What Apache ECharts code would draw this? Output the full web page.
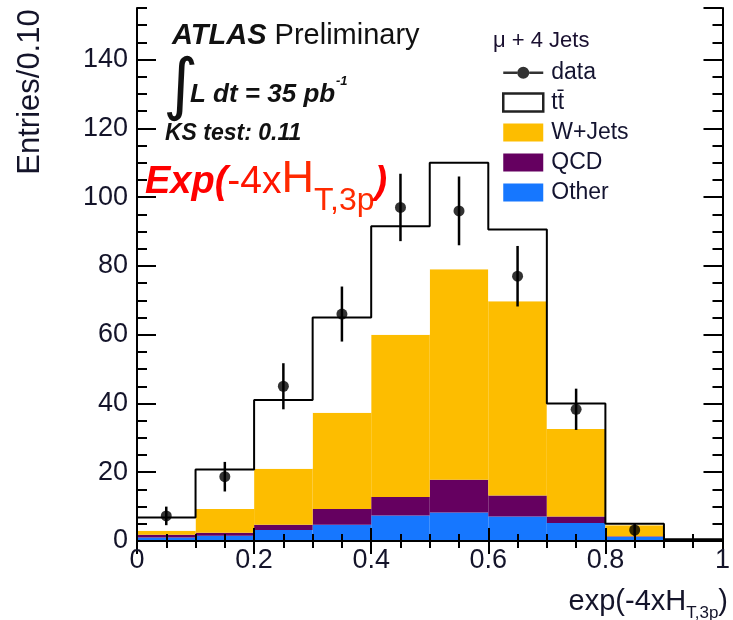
<!DOCTYPE html>
<html>
<head>
<meta charset="utf-8">
<script src="https://cdn.jsdelivr.net/npm/echarts@6/dist/echarts.min.js"></script>
<style>
    html, body { margin: 0; padding: 0; background: #fff; }
    #chart { width: 733px; height: 620px; }
</style>
</head>
<body>
<div id="chart"></div>
<script>
// bins of exp(-4 x H_T,3p), width 0.1
const binEdges = [0, 0.1, 0.2, 0.3, 0.4, 0.5, 0.6, 0.7, 0.8, 0.9, 1.0];
const binNames = ['0.0-0.1', '0.1-0.2', '0.2-0.3', '0.3-0.4', '0.4-0.5', '0.5-0.6', '0.6-0.7', '0.7-0.8', '0.8-0.9', '0.9-1.0'];

// stacked MC contributions (entries per bin)
const otherVals = [1.0, 1.5, 3.2, 4.7, 7.4, 8.3, 7.1, 5.2, 1.2, 0.4];
const qcdVals = [0.8, 0.9, 1.5, 4.6, 5.4, 9.5, 6.1, 1.9, 0.2, 0];
const wjetsVals = [1.2, 6.9, 16.3, 28.0, 47.2, 61.2, 56.5, 25.5, 3.2, 0];
const ttbarVals = [3.8, 11.5, 20.0, 27.7, 31.5, 31.0, 20.9, 7.4, 0.4, 0.1];

// data points with stat. errors
const dataX = [0.05, 0.15, 0.25, 0.35, 0.45, 0.55, 0.65, 0.75, 0.85];
const dataY = [7.3, 18.7, 45, 66, 97, 96, 77, 38.3, 3.2];
const dataErr = [2.7, 4.3, 6.7, 8.0, 9.8, 10.0, 8.8, 6.0, 1.8];

const FONT = 'Liberation Sans';
const TTNAME = 'tt\u0304';

let totals = binNames.map(function (n, i) {
    return otherVals[i] + qcdVals[i] + wjetsVals[i] + ttbarVals[i];
});
let stepData = binEdges.map(function (x, i) {
    return [x, totals[Math.min(i, totals.length - 1)]];
});
let pointData = dataX.map(function (x, i) {
    return [x, dataY[i], dataErr[i]];
});

function barSeries(name, vals, color) {
    return {
        name: name,
        type: 'bar',
        stack: 'mc',
        xAxisIndex: 2,
        yAxisIndex: 0,
        barCategoryGap: 0,
        itemStyle: { color: color },
        emphasis: { disabled: true },
        data: vals
    };
}

const yMajor = {
    type: 'value', min: 0, max: 155, interval: 20, z: 10,
    axisLine: { show: true, lineStyle: { color: '#000', width: 2 } },
    axisTick: { show: true, inside: true, length: 19, lineStyle: { color: '#000', width: 2 } },
    splitLine: { show: false }
};
const yMinor = {
    type: 'value', min: 0, max: 155, interval: 5, z: 10,
    axisLine: { show: false },
    axisTick: { show: true, inside: true, length: 10, lineStyle: { color: '#000', width: 2 } },
    axisLabel: { show: false },
    splitLine: { show: false }
};

const chart = echarts.init(document.getElementById('chart'));
const option = {
    animation: false,
    backgroundColor: '#fff',
    grid: { left: 137, right: 2, top: 8, bottom: 79, show: false },
    xAxis: [
        {
            type: 'value', min: 0, max: 1, interval: 0.2, position: 'bottom', z: 10,
            axisLine: { show: true, lineStyle: { color: '#000', width: 2 } },
            axisTick: { show: true, inside: true, length: 13, lineStyle: { color: '#000', width: 2 } },
            minorTick: { show: true, splitNumber: 4, length: 7, lineStyle: { color: '#000', width: 2 } },
            axisLabel: { fontFamily: FONT, fontSize: 27, color: '#14142a', margin: 6 },
            splitLine: { show: false }
        },
        {
            type: 'value', min: 0, max: 1, interval: 0.2, position: 'top', z: 10,
            axisLine: { show: true, lineStyle: { color: '#000', width: 2 } },
            axisTick: { show: true, inside: true, length: 13, lineStyle: { color: '#000', width: 2 } },
            minorTick: { show: true, splitNumber: 4, length: 7, lineStyle: { color: '#000', width: 2 } },
            axisLabel: { show: false },
            splitLine: { show: false }
        },
        {
            type: 'category', data: binNames, position: 'bottom', show: false
        }
    ],
    yAxis: [
        Object.assign({}, yMajor, {
            position: 'left',
            axisLabel: { fontFamily: FONT, fontSize: 27, color: '#14142a', margin: 9, showMaxLabel: false }
        }),
        Object.assign({}, yMinor, { position: 'left' }),
        Object.assign({}, yMajor, { position: 'right', axisLabel: { show: false } }),
        Object.assign({}, yMinor, { position: 'right' })
    ],
    legend: {
        left: 497,
        top: 56,
        orient: 'vertical',
        itemWidth: 40,
        itemHeight: 18,
        itemGap: 7,
        selectedMode: false,
        textStyle: { fontFamily: FONT, fontSize: 23, color: '#141430', padding: [0, 0, 0, 3] },
        data: [
            { name: 'data', icon: 'path://M0,8h14v2.5H0z M26,8h14v2.5h-14z M14,9.25a6,6 0 1,0 12,0a6,6 0 1,0 -12,0z M20,0h0.05v0.05h-0.05z M20,18h0.05v-0.05h-0.05z' },
            { name: TTNAME, icon: 'rect', itemStyle: { color: '#fff', borderColor: '#222', borderWidth: 2.5 } },
            { name: 'W+Jets', icon: 'rect' },
            { name: 'QCD', icon: 'rect' },
            { name: 'Other', icon: 'rect' }
        ]
    },
    series: [
        barSeries('Other', otherVals, '#1677ff'),
        barSeries('QCD', qcdVals, '#650060'),
        barSeries('W+Jets', wjetsVals, '#fdbd00'),
        barSeries(TTNAME, ttbarVals, '#ffffff'),
        {
            name: 'total',
            type: 'line',
            step: 'end',
            xAxisIndex: 0,
            yAxisIndex: 0,
            showSymbol: false,
            z: 4,
            lineStyle: { color: '#000', width: 2 },
            data: stepData
        },
        {
            name: 'errors',
            type: 'custom',
            xAxisIndex: 0,
            yAxisIndex: 0,
            z: 5,
            renderItem: function (params, api) {
                let lo = api.coord([api.value(0), api.value(1) - api.value(2)]);
                let hi = api.coord([api.value(0), api.value(1) + api.value(2)]);
                return {
                    type: 'line',
                    shape: { x1: lo[0], y1: lo[1], x2: hi[0], y2: hi[1] },
                    style: { stroke: '#000', lineWidth: 2.5 }
                };
            },
            data: pointData
        },
        {
            name: 'data',
            type: 'scatter',
            xAxisIndex: 0,
            yAxisIndex: 0,
            symbol: 'circle',
            symbolSize: 11,
            z: 6,
            itemStyle: { color: '#000' },
            data: pointData
        }
    ],
    graphic: [
        {
            type: 'text', x: 30, y: 92, rotation: Math.PI / 2,
            style: { text: 'Entries/0.10', font: '31px "Liberation Sans"', fill: '#14142a', align: 'center', verticalAlign: 'middle' }
        },
        {
            type: 'text', left: 172, top: 21,
            style: {
                text: '{a|ATLAS} Preliminary',
                font: '29px "Liberation Sans"', fill: '#111',
                rich: { a: { fontFamily: FONT, fontSize: 29, fontWeight: 'bold', fontStyle: 'italic', fill: '#111' } }
            }
        },
        {
            type: 'text', left: 163, top: 55,
            style: { text: '\u222B', font: '68px "DejaVu Sans"', fill: '#111' }
        },
        {
            type: 'text', left: 190, top: 82,
            style: { text: 'L dt = 35 pb', font: 'italic bold 26px "Liberation Sans"', fill: '#111' }
        },
        {
            type: 'text', left: 336, top: 75,
            style: { text: '-1', font: 'italic bold 13px "Liberation Sans"', fill: '#111' }
        },
        {
            type: 'text', left: 165, top: 122,
            style: { text: 'KS test: 0.11', font: 'italic bold 23px "Liberation Sans"', fill: '#111' }
        },
        {
            type: 'text', left: 145, top: 157,
            style: {
                text: '{e|Exp(}{n|-4x}{h|H}{s|T,3p}{e|)}',
                rich: {
                    e: { fontFamily: FONT, fontSize: 38, fontWeight: 'bold', fontStyle: 'italic', fill: '#ff0000', verticalAlign: 'bottom', padding: [0, 0, 15, 0] },
                    n: { fontFamily: FONT, fontSize: 39, fill: '#ff1500', verticalAlign: 'bottom', padding: [0, 0, 15, 0] },
                    h: { fontFamily: FONT, fontSize: 45, fill: '#ff2a00', verticalAlign: 'bottom', padding: [0, 0, 15, 0] },
                    s: { fontFamily: FONT, fontSize: 32, fill: '#ff2a00', verticalAlign: 'bottom' }
                }
            }
        },
        {
            type: 'text', left: 493, top: 30,
            style: { text: '\u03BC + 4 Jets', font: '22px "Liberation Sans"', fill: '#1a1030' }
        },
        {
            type: 'text', right: 5, top: 587,
            style: {
                text: '{m|exp(-4xH}{s|T,3p}{m|)}',
                rich: {
                    m: { fontFamily: FONT, fontSize: 29, fill: '#14142a', verticalAlign: 'bottom', padding: [0, 0, 6, 0] },
                    s: { fontFamily: FONT, fontSize: 17, fill: '#14142a', verticalAlign: 'bottom' }
                }
            }
        }
    ]
};
chart.setOption(option);
</script>
</body>
</html>
